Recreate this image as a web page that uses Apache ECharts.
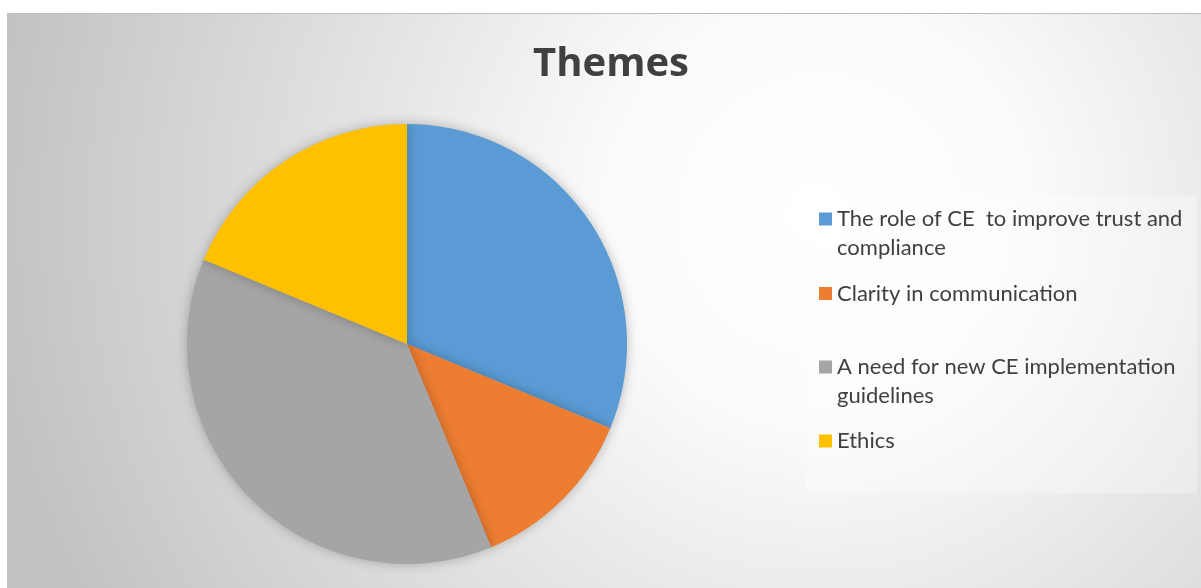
<!DOCTYPE html>
<html>
<head>
<meta charset="utf-8">
<script src="https://cdn.jsdelivr.net/npm/echarts@6/dist/echarts.min.js"></script>
<style>
html,body{margin:0;padding:0;background:#fff;}
#chart{position:absolute;left:7px;top:13px;width:1194px;height:575px;}
</style>
</head>
<body>
<div id="chart"></div>
<script>
const categories = [
  'The role of CE  to improve trust and compliance',
  'Clarity in communication',
  'A need for new CE implementation guidelines',
  'Ethics'
];
const legendLabels = [
  'The role of CE  to improve trust and\ncompliance',
  'Clarity in communication',
  'A need for new CE implementation\nguidelines',
  'Ethics'
];
const values = [5, 2, 6, 3];
const colors = ['#5B9BD5', '#ED7D31', '#A5A5A5', '#FFC000'];

const chart = echarts.init(document.getElementById('chart'));
const lineH = 29;
const iconCenters = [206, 280.5, 354, 428];
const legends = categories.map((name, i) => {
  const twoLine = legendLabels[i].indexOf('\n') >= 0;
  const h = twoLine ? lineH * 3 : lineH;
  return {
    orient: 'vertical',
    left: 812,
    top: iconCenters[i] - h / 2,
    itemWidth: 13,
    itemHeight: 13,
    itemGap: 0,
    padding: 0,
    icon: 'rect',
    selectedMode: false,
    data: [name],
    formatter: () => twoLine ? ' \n' + legendLabels[i] : legendLabels[i],
    textStyle: {
      fontFamily: 'Lato',
      fontSize: 22,
      color: '#404040',
      lineHeight: lineH
    }
  };
});

chart.setOption({
  backgroundColor: {
    type: 'radial', x: 0.68, y: 0.35, r: 1.45,
    colorStops: [
      {offset: 0, color: '#ffffff'},
      {offset: 0.25, color: '#fbfbfb'},
      {offset: 1, color: '#c2c2c2'}
    ]
  },
  title: {
    text: 'Themes',
    left: 599,
    top: 27,
    textAlign: 'center',
    textStyle: {fontFamily: 'Open Sans', fontWeight: 'bold', fontSize: 40, color: '#404040'}
  },
  graphic: [{
    type: 'rect',
    z: 0,
    shape: {x: 799, y: 183, width: 391, height: 297},
    style: {fill: 'rgba(255,255,255,0.3)'}
  }, {
    type: 'line',
    z: 0,
    shape: {x1: 0, y1: 0.5, x2: 1194, y2: 0.5},
    style: {stroke: '#bdbdbd', lineWidth: 1}
  }],
  legend: legends,
  series: [{
    type: 'pie',
    center: [400, 331],
    radius: 220,
    startAngle: 90,
    clockwise: true,
    label: {show: false},
    labelLine: {show: false},
    emphasis: {disabled: true},
    itemStyle: {shadowBlur: 12, shadowColor: 'rgba(0,0,0,0.25)'},
    data: categories.map((n, i) => ({name: n, value: values[i], itemStyle: {color: colors[i]}}))
  }]
});
</script>
</body>
</html>
